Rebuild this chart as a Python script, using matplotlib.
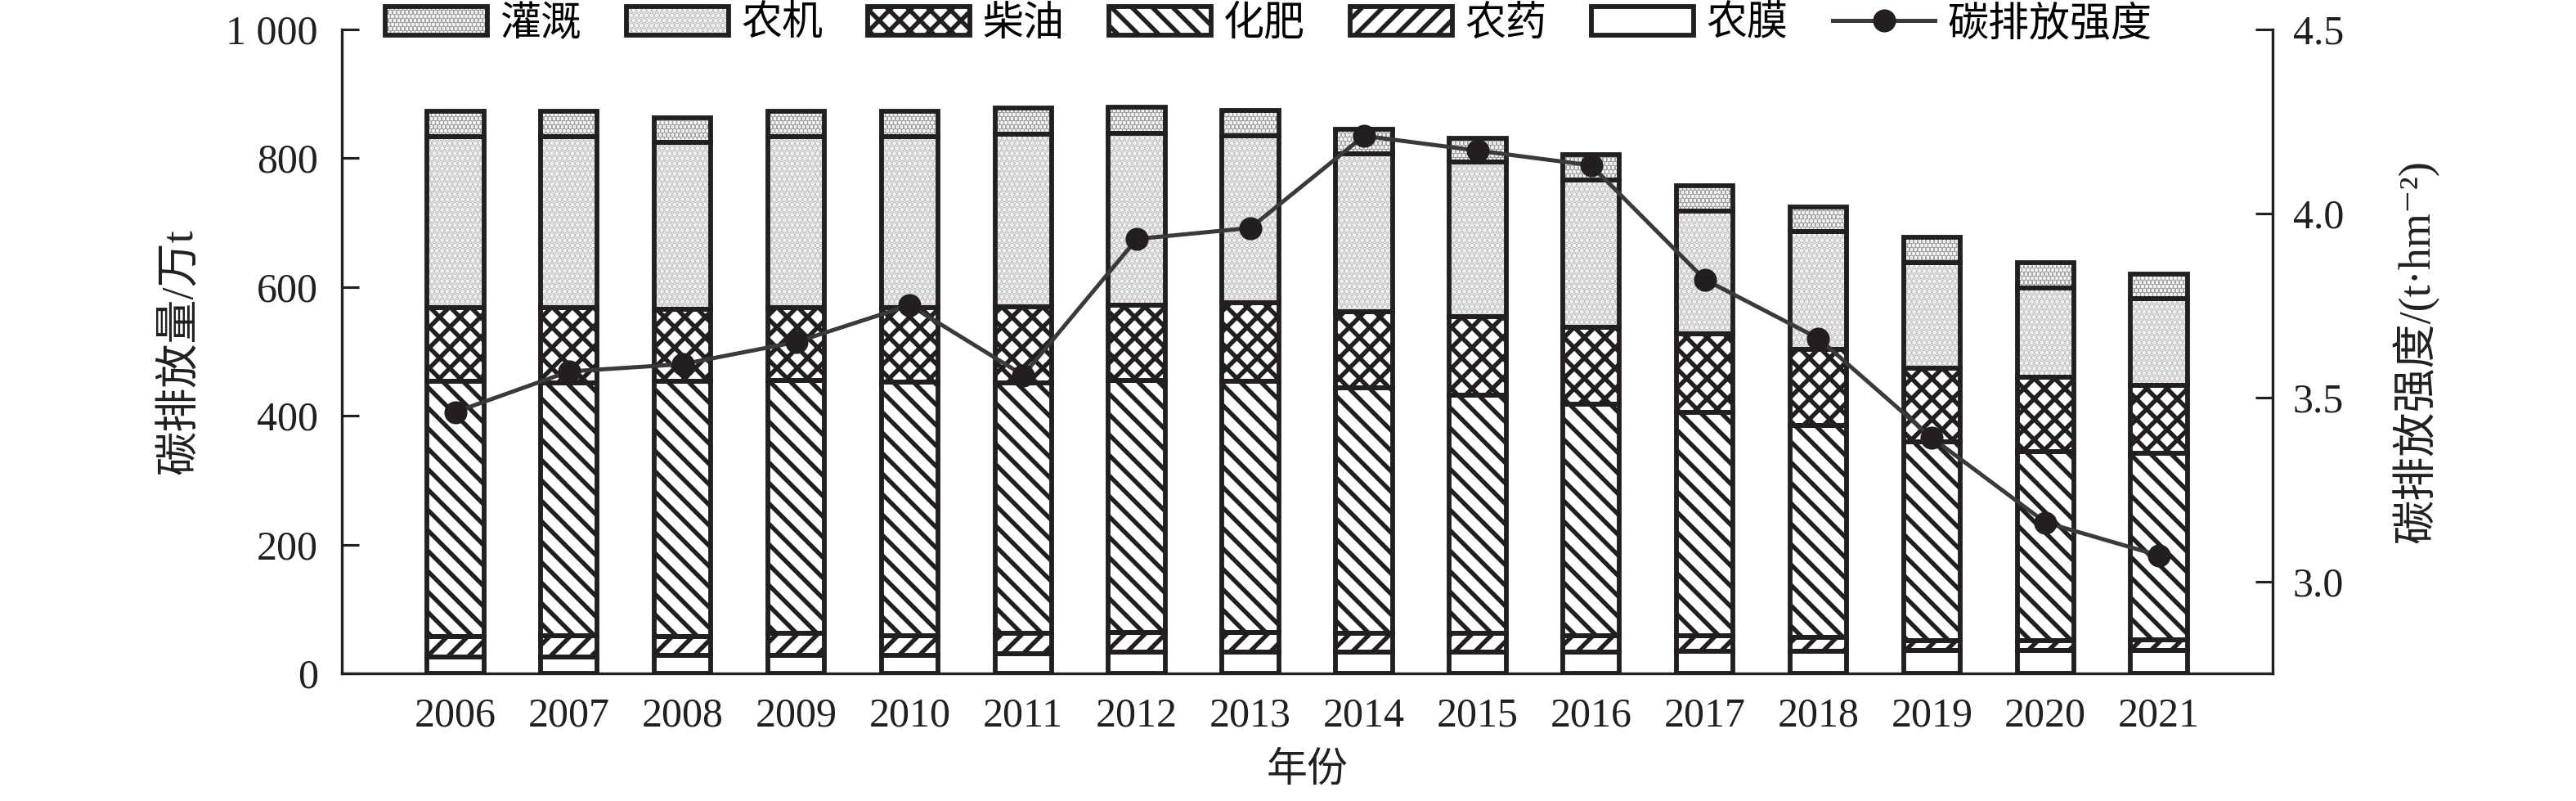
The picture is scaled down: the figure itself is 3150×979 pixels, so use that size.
import numpy as np
import matplotlib
matplotlib.use("Agg")
import matplotlib.pyplot as plt

plt.rcParams['font.family'] = ['Liberation Serif', 'Noto Sans CJK SC', 'DejaVu Serif']
plt.rcParams['hatch.linewidth'] = 2.6
plt.rcParams['axes.unicode_minus'] = False

years = ['2006', '2007', '2008', '2009', '2010', '2011', '2012', '2013',
         '2014', '2015', '2016', '2017', '2018', '2019', '2020', '2021']
# stacked from bottom to top
mulch = [25, 25, 28, 28, 28, 30, 33, 33, 33, 33, 33, 34, 34, 35, 35, 35]
pesticide = [32, 34, 29, 34, 31, 32, 30, 30, 29, 29, 26, 24, 22, 16, 16, 17]
fertilizer = [397, 392, 397, 393, 393, 389, 392, 391, 381, 370, 359, 347, 329, 308, 293, 290]
diesel = [114, 117, 111, 113, 116, 118, 116, 121, 118, 122, 119, 122, 118, 115, 116, 105]
machinery = [265, 265, 259, 265, 265, 268, 267, 259, 245, 240, 229, 190, 183, 164, 138, 135]
irrigation = [40, 40, 38, 40, 40, 40, 41, 40, 39, 37, 39, 40, 38, 39, 39, 38]
intensity = [3.46, 3.57, 3.59, 3.65, 3.75, 3.56, 3.93, 3.96,
             4.21, 4.17, 4.13, 3.82, 3.66, 3.39, 3.16, 3.07]

left_ticks = [0, 200, 400, 600, 800, 1000]
left_labels = ['0', '200', '400', '600', '800', '1 000']
right_ticks = [3.0, 3.5, 4.0, 4.5]
right_labels = ['3.0', '3.5', '4.0', '4.5']

ink = '#231f20'
series = [
    ('农膜', mulch, '', ink),
    ('农药', pesticide, '//', ink),
    ('化肥', fertilizer, '\\\\', ink),
    ('柴油', diesel, 'xx', ink),
    ('农机', machinery, '....', '#c4c4c4'),
    ('灌溉', irrigation, '.....', '#a6a6a6'),
]

fig = plt.figure(figsize=(21, 979 / 150), dpi=150)
ax = fig.add_axes([418 / 3150, 1 - 823 / 979, (2779 - 418) / 3150, (823 - 35.6) / 979])

x = np.arange(len(years))
bottom = np.zeros(len(years))
handles = {}
for name, vals, hatch, hcol in series:
    vals = np.array(vals, dtype=float)
    hb = ax.bar(x, vals, 0.5, bottom=bottom, color='white', edgecolor=hcol,
                hatch=hatch, linewidth=0, zorder=2)
    eb = ax.bar(x, vals, 0.5, bottom=bottom, fill=False, edgecolor=ink,
                linewidth=2.8, zorder=3)
    handles[name] = (hb, eb)
    bottom += vals

ax.set_xlim(-1, 16)
ax.set_ylim(0, 1000)
ax.set_xticks(x)
ax.set_xticklabels(years)
ax.set_yticks(left_ticks)
ax.set_yticklabels(left_labels)
ax.tick_params(axis='y', direction='in', length=10, width=1.5, labelsize=24, pad=14, colors=ink)
ax.tick_params(axis='x', length=0, labelsize=24, pad=14, colors=ink)
for s in ['left', 'bottom']:
    ax.spines[s].set_linewidth(1.6)
    ax.spines[s].set_color(ink)
ax.spines['top'].set_visible(False)
ax.spines['right'].set_visible(False)
ax.set_ylabel('碳排放量/万t', fontsize=26, color=ink, labelpad=14)
ax.set_xlabel('年份', fontsize=24, color=ink, labelpad=10)

ax2 = ax.twinx()
ln, = ax2.plot(x, intensity, color='#3a3a3a', linewidth=2.4, marker='o',
               markersize=12.5, markerfacecolor=ink, markeredgecolor=ink, zorder=5)
ax2.set_ylim(2.75, 4.5)
ax2.set_yticks(right_ticks)
ax2.set_yticklabels(right_labels)
ax2.tick_params(axis='y', direction='in', length=10, width=1.5, labelsize=24, pad=12, colors=ink)
ax2.spines['right'].set_linewidth(1.6)
ax2.spines['right'].set_color(ink)
ax2.spines['top'].set_visible(False)
ax2.spines['left'].set_visible(False)
ax2.spines['bottom'].set_visible(False)
ax2.set_ylabel('碳排放强度/(t·hm⁻²)', fontsize=26, color=ink, labelpad=28)

order = ['灌溉', '农机', '柴油', '化肥', '农药', '农膜']
leg = fig.legend([handles[n] for n in order] + [ln], order + ['碳排放强度'],
                 loc='center', bbox_to_anchor=(0.4924, 0.969), ncol=7, frameon=False,
                 fontsize=24, handlelength=2.5, handleheight=0.7, handletextpad=0.3,
                 columnspacing=1.1, borderaxespad=0)

fig.savefig('out.png', dpi=150, facecolor='white')
